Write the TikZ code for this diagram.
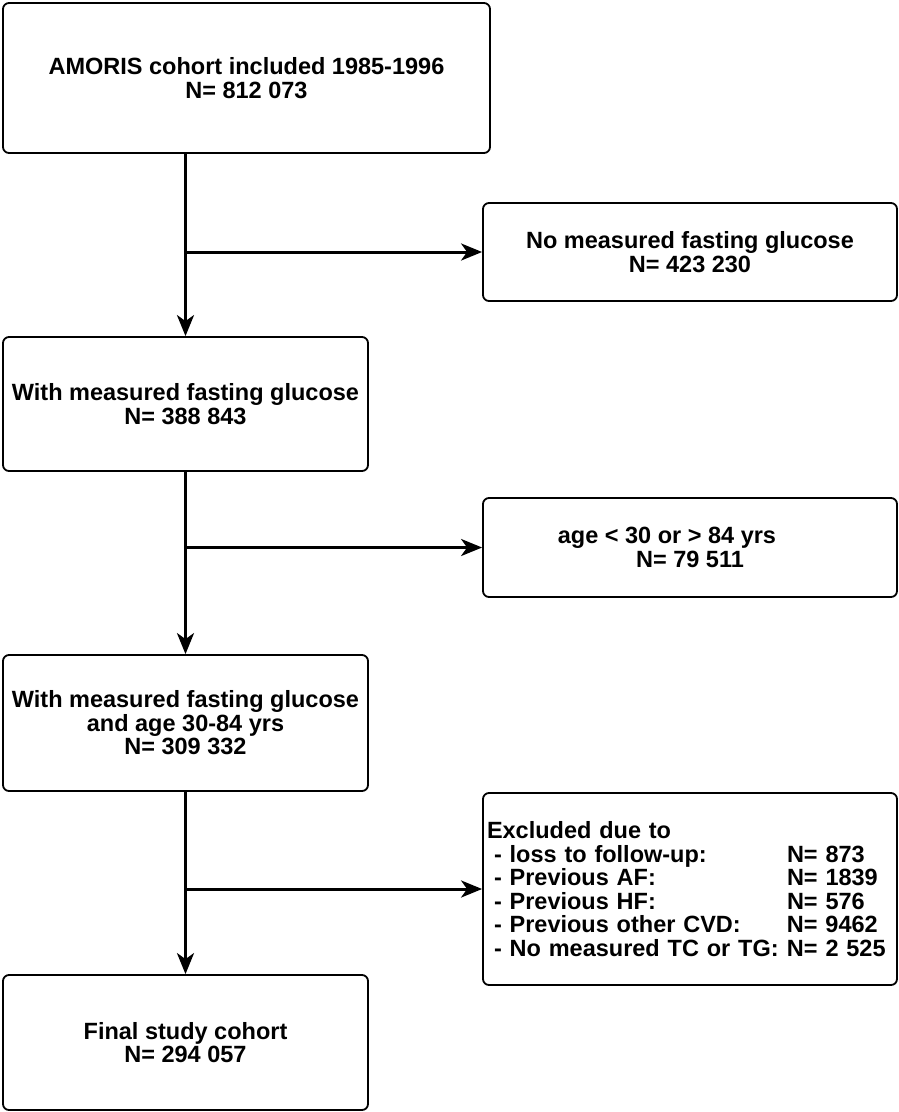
\documentclass[tikz,border=0pt]{standalone}
\usepackage{fontspec}
\newfontfamily\flowfont{Liberation Sans}
\usetikzlibrary{arrows.meta}
\newcommand\exitem[2]{\hspace*{7pt}\makebox[293pt][l]{- #1}#2}

\begin{document}
\begin{tikzpicture}[x=1pt, y=-1pt,
    box/.style={draw, line width=1.8pt, rounded corners=6pt, align=center, inner sep=0pt,
        font=\flowfont\bfseries\fontsize{23.5}{23.5}\selectfont},
    flow/.style={line width=3pt, -{Stealth[length=21pt, width=17pt, inset=6pt]}}]

    \useasboundingbox (0,0) rectangle (898,1112);

    % main column
    \node[box, minimum width=487pt, minimum height=150pt] (amoris) at (246.5,78) {AMORIS cohort included 1985-1996\\N= 812 073};
    \node[box, minimum width=365pt, minimum height=134pt] (withfast) at (185.5,404) {With measured fasting glucose\\N= 388 843};
    \node[box, minimum width=365pt, minimum height=136pt] (agefast) at (185.5,723) {With measured fasting glucose\\and age 30-84 yrs\\N= 309 332};
    \node[box, minimum width=365pt, minimum height=135pt] (final) at (185.5,1042.5) {Final study cohort\\N= 294 057};

    % exclusions
    \node[box, minimum width=414pt, minimum height=98pt] (nofast) at (690,252) {No measured fasting glucose\\N= 423 230};
    \node[box, minimum width=414pt, minimum height=99pt] (agex) at (690,547.5) {age < 30 or > 84 yrs\hspace*{46pt}\\N= 79 511};
    \node[box, minimum width=414pt, minimum height=192pt, align=left, text width=406pt, inner xsep=4pt] (excl) at (690,889) {Excluded due to\\
        \exitem{loss to follow-up:}{N= 873}\\
        \exitem{Previous AF:}{N= 1839}\\
        \exitem{Previous HF:}{N= 576}\\
        \exitem{Previous other CVD:}{N= 9462}\\
        \exitem{No measured TC or TG:}{N= 2 525}};

    \draw[flow] (withfast.north |- amoris.south) -- (withfast.north);
    \draw[flow] (withfast.north |- nofast.west) -- (nofast.west);
    \draw[flow] (withfast.south) -- (agefast.north);
    \draw[flow] (agefast.north |- agex.west) -- (agex.west);
    \draw[flow] (agefast.south) -- (final.north);
    \draw[flow] (final.north |- excl.west) -- (excl.west);

\end{tikzpicture}
\end{document}
